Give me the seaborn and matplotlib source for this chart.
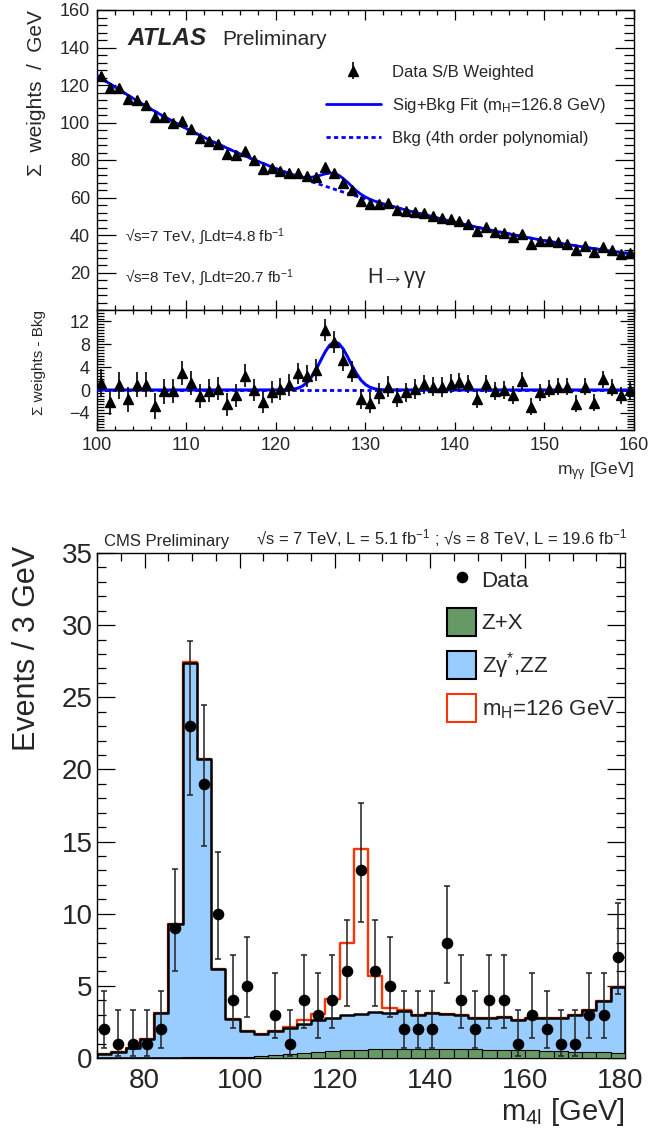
import numpy as np
import pandas as pd
import matplotlib
matplotlib.use("Agg")
import matplotlib.pyplot as plt
from matplotlib.patches import Patch
from matplotlib.ticker import MultipleLocator
import seaborn as sns

# ---------------- ATLAS H -> gamma gamma ----------------
atlas_mass = np.arange(100.5, 160.0, 1.0)
atlas_weights = [124.8, 118.2, 118.2, 112.4, 112.0, 109.2, 103.0, 102.7, 99.8, 100.9,
                 96.5, 92.0, 90.3, 88.8, 83.2, 82.8, 84.6, 80.0, 75.4, 75.6,
                 74.3, 73.1, 73.3, 71.5, 70.8, 76.1, 72.9, 67.6, 64.2, 58.4,
                 56.3, 56.5, 56.9, 53.3, 52.8, 52.1, 51.9, 50.1, 48.9, 48.4,
                 47.5, 46.0, 42.3, 44.1, 41.8, 40.9, 39.1, 40.5, 35.4, 37.0,
                 37.0, 36.4, 35.4, 32.0, 34.1, 30.8, 33.8, 32.0, 29.9, 30.2]
atlas_resid = [1.3, -2.1, 0.8, -1.6, 0.9, 0.9, -2.8, -0.2, -0.2, 2.9,
               1.3, -1.1, -0.1, 0.2, -2.5, -0.9, 2.5, 0.0, -2.1, -0.4,
               0.2, 0.9, 2.9, 2.5, 3.5, 10.5, 8.4, 5.2, 3.2, -1.6,
               -2.2, -0.6, 0.6, -1.3, -0.4, 0.2, 1.0, 0.6, 0.5, 1.1,
               1.4, 1.1, -1.6, 1.1, -0.2, 0.0, -0.9, 1.6, -2.9, -0.4,
               0.2, 0.6, 0.6, -2.4, 0.6, -2.2, 1.9, 0.4, -0.9, 0.0]
atlas_err = [2.3, 2.3, 2.3, 2.2, 2.2, 2.2, 2.2, 2.2, 2.1, 2.1,
             2.1, 2.1, 2.0, 2.0, 2.0, 2.0, 2.0, 1.9, 1.9, 1.9,
             1.9, 1.9, 1.9, 1.9, 1.9, 1.9, 1.9, 1.8, 1.8, 1.8,
             1.8, 1.8, 1.8, 1.7, 1.7, 1.7, 1.7, 1.7, 1.7, 1.7,
             1.6, 1.6, 1.6, 1.6, 1.6, 1.6, 1.6, 1.6, 1.5, 1.5,
             1.5, 1.5, 1.5, 1.5, 1.5, 1.5, 1.5, 1.5, 1.5, 1.5]

bkg_mass = [100.0, 102.5, 105.0, 107.5, 110.0, 112.5, 115.0, 117.5, 120.0, 122.5,
            125.0, 127.5, 130.0, 132.5, 135.0, 137.5, 140.0, 142.5, 145.0, 147.5,
            150.0, 152.5, 155.0, 157.5, 160.0]
bkg_weights = [125.0, 117.4, 110.0, 103.1, 96.7, 90.8, 85.3, 80.2, 75.4, 70.9,
               66.8, 62.9, 59.3, 55.9, 52.7, 49.7, 46.8, 44.1, 41.6, 39.2,
               37.0, 35.0, 33.1, 31.4, 29.8]

fit_mass = [100.0, 102.5, 105.0, 107.5, 110.0, 112.5, 115.0, 117.5,
            120.0, 120.5, 121.0, 121.5, 122.0, 122.5, 123.0, 123.5, 124.0, 124.5,
            125.0, 125.5, 126.0, 126.5, 127.0, 127.5, 128.0, 128.5, 129.0, 129.5,
            130.0, 130.5, 131.0, 131.5, 132.0, 132.5,
            135.0, 137.5, 140.0, 142.5, 145.0, 147.5, 150.0, 152.5, 155.0, 157.5, 160.0]
fit_weights = [125.0, 117.4, 110.0, 103.1, 96.7, 90.8, 85.3, 80.2,
               75.4, 74.5, 73.6, 72.8, 72.0, 71.25, 70.8, 70.7, 70.85, 71.25,
               71.9, 72.6, 73.0, 72.8, 71.9, 70.2, 68.1, 65.8, 63.5, 61.7,
               60.25, 59.1, 58.1, 57.4, 56.6, 55.9,
               52.7, 49.7, 46.8, 44.1, 41.6, 39.2, 37.0, 35.0, 33.1, 31.4, 29.8]

sig_mass = [100.0, 120.0, 120.5, 121.0, 121.5, 122.0, 122.5, 123.0, 123.5, 124.0, 124.5,
            125.0, 125.5, 126.0, 126.5, 127.0, 127.5, 128.0, 128.5, 129.0, 129.5,
            130.0, 130.5, 131.0, 131.5, 132.0, 132.5, 160.0]
sig_weights = [0.0, 0.01, 0.01, 0.03, 0.07, 0.16, 0.35, 0.73, 1.38, 2.35, 3.66,
               5.19, 6.69, 7.85, 8.37, 8.15, 7.21, 5.81, 4.26, 2.84, 1.72,
               0.95, 0.48, 0.22, 0.09, 0.04, 0.01, 0.0]

# ---------------- CMS H -> ZZ -> 4l ----------------
cms_edges = [float(e) for e in np.arange(70, 182, 3)]
cms_zx = [0.01, 0.01, 0.02, 0.02, 0.03, 0.03, 0.04, 0.04, 0.05, 0.06,
          0.10, 0.15, 0.22, 0.30, 0.38, 0.44, 0.50, 0.54, 0.57, 0.59,
          0.60, 0.61, 0.62, 0.62, 0.62, 0.61, 0.60, 0.58, 0.56, 0.54,
          0.52, 0.50, 0.47, 0.45, 0.42, 0.40, 0.38]
cms_zz = [0.24, 0.44, 0.68, 1.28, 3.07, 9.27, 27.36, 20.66, 6.10, 2.64,
          1.75, 1.50, 1.63, 1.75, 1.97, 2.16, 2.25, 2.46, 2.48, 2.61,
          2.55, 2.64, 2.33, 2.48, 2.43, 2.39, 2.20, 2.22, 2.29, 2.11,
          2.23, 2.30, 2.33, 2.55, 2.88, 3.55, 4.52]
cms_sig = [0.0, 0.0, 0.0, 0.0, 0.0, 0.0, 0.05, 0.05, 0.0, 0.0,
           0.03, 0.04, 0.05, 0.08, 0.25, 0.45, 1.35, 5.0, 11.45, 2.5,
           0.3, 0.1, 0.03, 0.0, 0.0, 0.0, 0.0, 0.0, 0.0, 0.0,
           0.0, 0.0, 0.0, 0.0, 0.0, 0.0, 0.0]
cms_data = [2, 1, 1, 1, 2, 9, 23, 19, 10, 4,
            5, 0, 3, 1, 4, 3, 4, 6, 13, 6,
            5, 2, 2, 2, 8, 4, 2, 4, 4, 1,
            3, 2, 1, 1, 3, 3, 7]
# 68% Poisson (Garwood) intervals: count -> (down, up)
poisson_err = {1: (0.827, 2.300), 2: (1.292, 2.638), 3: (1.633, 2.918),
               4: (1.914, 3.163), 5: (2.160, 3.382), 6: (2.380, 3.584),
               7: (2.581, 3.770), 8: (2.768, 3.945), 9: (2.943, 4.110),
               10: (3.109, 4.266), 13: (3.570, 4.697), 19: (4.320, 5.446),
               23: (4.757, 5.893)}

# ---------------- style ----------------
sns.set_style("ticks")
plt.rcParams.update({
    "font.family": ["Liberation Sans", "DejaVu Sans"],
    "mathtext.fontset": "custom",
    "mathtext.rm": "Liberation Sans",
    "mathtext.it": "Liberation Sans:italic",
    "mathtext.bf": "Liberation Sans:bold",
    "axes.linewidth": 1.0,
    "axes.edgecolor": "black",
})

W, H = 650, 1135
fig = plt.figure(figsize=(W / 100, H / 100), dpi=100)
fig.patch.set_facecolor("white")


def rect(left, top, right, bottom):
    return [left / W, 1 - bottom / H, (right - left) / W, (bottom - top) / H]


ax1 = fig.add_axes(rect(97, 10, 634, 310))
ax2 = fig.add_axes(rect(97, 310, 634, 430))
ax3 = fig.add_axes(rect(97, 553, 625, 1058))


def root_ticks(ax, xmaj, xmin, xlen, ylen, labelsize, pad_x, pad_y):
    ax.xaxis.set_major_locator(MultipleLocator(xmaj))
    ax.xaxis.set_minor_locator(MultipleLocator(xmin))
    ax.tick_params(which="both", direction="in", top=True, right=True,
                   width=0.9, color="black", labelsize=labelsize)
    ax.tick_params(axis="x", which="major", length=xlen[0], pad=pad_x)
    ax.tick_params(axis="x", which="minor", length=xlen[1])
    ax.tick_params(axis="y", which="major", length=ylen[0], pad=pad_y)
    ax.tick_params(axis="y", which="minor", length=ylen[1])


blue = "#0000ff"
dots = (0, (1.5, 1.2))

# ---- ATLAS main panel ----
sns.lineplot(x=bkg_mass, y=bkg_weights, ax=ax1, color=blue, lw=2.0,
             linestyle=dots, zorder=2)
h_bkg = ax1.lines[-1]
sns.lineplot(x=fit_mass, y=fit_weights, ax=ax1, color=blue, lw=2.0, zorder=3)
h_fit = ax1.lines[-1]
h_data = ax1.errorbar(atlas_mass, atlas_weights, yerr=atlas_err, fmt="^",
                      color="black", ms=7, elinewidth=1.2, capsize=0, zorder=4)
ax1.set_xlim(100, 160)
ax1.set_ylim(0, 160)
root_ticks(ax1, 10, 2, (7, 3.5), (14, 7), 13, 5, 5)
ax1.set_yticks(np.arange(20, 161, 20))
ax1.yaxis.set_minor_locator(MultipleLocator(4))
ax1.tick_params(axis="x", labelbottom=False)
ax1.set_xlabel("")
ax1.set_ylabel("Σ  weights  /  GeV", fontsize=15, loc="top")
ax1.yaxis.set_label_coords(-0.095, 1.0)

leg1 = ax1.legend([h_data, h_fit, h_bkg],
                  ["Data S/B Weighted",
                   r"Sig+Bkg Fit (m$\mathregular{_H}$=126.8 GeV)",
                   "Bkg (4th order polynomial)"],
                  loc="upper left", bbox_to_anchor=(0.426, 0.818),
                  frameon=False, fontsize=12, handlelength=3.3,
                  handletextpad=0.7, labelspacing=0.97, borderpad=0,
                  borderaxespad=0)

ax1.text(0.057, 0.883, "ATLAS", transform=ax1.transAxes, fontsize=17.5,
         fontweight="bold", fontstyle="italic", va="baseline", ha="left")
ax1.text(0.233, 0.883, "Preliminary", transform=ax1.transAxes, fontsize=15,
         va="baseline", ha="left")
ax1.text(0.052, 0.243, r"√s=7 TeV, $\int$Ldt=4.8 fb$^{-1}$", transform=ax1.transAxes,
         fontsize=11, va="center", ha="left")
ax1.text(0.052, 0.108, r"√s=8 TeV, $\int$Ldt=20.7 fb$^{-1}$", transform=ax1.transAxes,
         fontsize=11, va="center", ha="left")
ax1.text(0.503, 0.11, "H→γγ", transform=ax1.transAxes, fontsize=15.5,
         va="center", ha="left")

# ---- ATLAS residual panel ----
ax2.axhline(0, color=blue, lw=2.0, linestyle=dots, zorder=2)
sns.lineplot(x=sig_mass, y=sig_weights, ax=ax2, color=blue, lw=2.2, zorder=3)
ax2.errorbar(atlas_mass, atlas_resid, yerr=atlas_err, fmt="^", color="black",
             ms=7, elinewidth=1.2, capsize=0, zorder=4)
ax2.set_xlim(100, 160)
ax2.set_ylim(-7, 14)
root_ticks(ax2, 10, 2, (6, 3), (10, 5), 13, 5, 5)
ax2.set_yticks([-4, 0, 4, 8, 12])
ax2.yaxis.set_minor_locator(MultipleLocator(0.5))
ax2.set_ylabel("Σ weights - Bkg", fontsize=11, loc="top")
ax2.yaxis.set_label_coords(-0.095, 1.0)
ax2.set_xlabel(r"m$\mathregular{_{γγ}}$ [GeV]", fontsize=12.5, loc="right")
ax2.xaxis.set_label_coords(1.0, -0.25)

# ---- CMS panel ----
centers = np.array(cms_edges[:-1]) + 1.5
zx = np.array(cms_zx)
bkg_tot = zx + np.array(cms_zz)
all_tot = bkg_tot + np.array(cms_sig)
cms_df = pd.DataFrame({"m4l": centers, "total": all_tot, "bkg": bkg_tot, "zx": zx})

sns.histplot(data=cms_df, x="m4l", weights="total", bins=cms_edges, element="step",
             fill=True, facecolor="white", edgecolor="#ff3300", linewidth=1.7,
             alpha=1, ax=ax3, zorder=1)
sns.histplot(data=cms_df, x="m4l", weights="bkg", bins=cms_edges, element="step",
             fill=True, facecolor="#99ccff", edgecolor="black", linewidth=1.8,
             alpha=1, ax=ax3, zorder=2)
sns.histplot(data=cms_df, x="m4l", weights="zx", bins=cms_edges, element="bars",
             fill=True, facecolor="#669966", edgecolor="black", linewidth=0.8,
             alpha=1, ax=ax3, zorder=3)

counts = np.array(cms_data)
mask = counts > 0
xs = centers[mask]
ys = counts[mask]
lo = [poisson_err[c][0] for c in ys]
hi = [poisson_err[c][1] for c in ys]
ax3.errorbar(xs, ys, yerr=[lo, hi], fmt="none", ecolor="#222222",
             elinewidth=1.1, capsize=2.5, capthick=1.1, zorder=4)
sns.scatterplot(x=xs, y=ys, ax=ax3, color="black", s=70, linewidth=0,
                zorder=5, legend=False)
h_pts = ax3.collections[-1]

ax3.set_xlim(70, 181)
ax3.set_ylim(0, 35)
root_ticks(ax3, 20, 5, (11, 5.5), (13, 6.5), 20, 7, 3)
ax3.yaxis.set_major_locator(MultipleLocator(5))
ax3.yaxis.set_minor_locator(MultipleLocator(1))
ax3.set_ylabel("Events / 3 GeV", fontsize=22, loc="top")
ax3.yaxis.set_label_coords(-0.105, 1.014)
ax3.set_xlabel(r"m$\mathregular{_{4l}}$ [GeV]", fontsize=21, loc="right")
ax3.xaxis.set_label_coords(1.0, -0.075)

handles = [h_pts,
           Patch(facecolor="#669966", edgecolor="black", linewidth=1.5),
           Patch(facecolor="#99ccff", edgecolor="black", linewidth=1.5),
           Patch(facecolor="white", edgecolor="#ff3300", linewidth=1.5)]
labels = ["Data", "Z+X", r"Z$\mathregular{γ^{*}}$,ZZ", r"m$\mathregular{_H}$=126 GeV"]
ax3.legend(handles, labels, loc="upper left", bbox_to_anchor=(0.663, 0.974),
           frameon=False, fontsize=16, handlelength=1.3, handleheight=1.56,
           handletextpad=0.25, labelspacing=0.62, borderpad=0, borderaxespad=0)

ax3.text(0.013, 1.008, "CMS Preliminary", transform=ax3.transAxes, fontsize=12,
         ha="left", va="bottom")
ax3.text(1.004, 1.008,
         r"√s = 7 TeV, L = 5.1 fb$^{-1}$ ; √s = 8 TeV, L = 19.6 fb$^{-1}$",
         transform=ax3.transAxes, fontsize=12, ha="right", va="bottom")

fig.savefig("out.png", dpi=100)
